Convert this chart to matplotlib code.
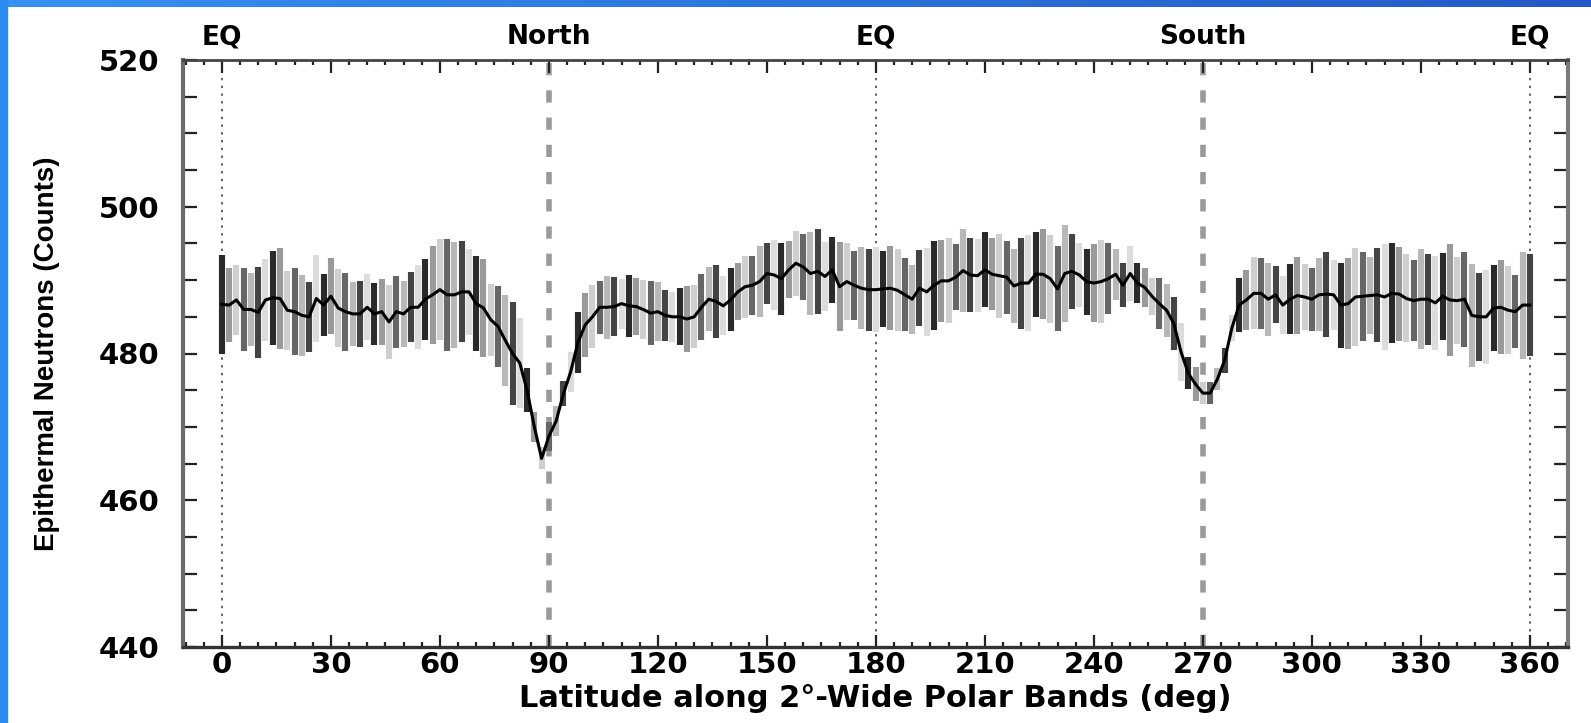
import numpy as np
import matplotlib
matplotlib.use('Agg')
import matplotlib.pyplot as plt
from matplotlib.ticker import MultipleLocator
from matplotlib.patches import Rectangle

# band centres, 2 deg wide, 0..360 along the polar track
lat = np.arange(0, 361, 2)

counts = [
    486.7, 486.6, 487.3, 486.0, 486.0, 485.6, 487.3, 487.6, 487.5, 485.9,
    485.7, 485.2, 485.0, 487.5, 486.6, 487.8, 486.2, 485.7, 485.4, 485.4,
    486.3, 485.4, 485.7, 484.3, 485.7, 485.4, 486.3, 486.3, 487.4, 488.0,
    488.7, 488.0, 488.0, 488.4, 488.4, 486.8, 486.2, 484.6, 483.7, 481.8,
    480.0, 478.7, 475.0, 470.0, 465.7, 468.7, 470.8, 474.5, 477.5, 481.5,
    483.9, 485.0, 486.3, 486.3, 486.4, 486.8, 486.5, 486.4, 486.0, 485.5,
    485.7, 485.2, 485.0, 485.0, 484.7, 485.0, 486.3, 487.4, 487.1, 486.5,
    487.3, 488.4, 489.1, 489.3, 489.8, 490.9, 490.7, 490.2, 491.4, 492.3,
    491.8, 490.9, 491.2, 490.5, 491.4, 489.1, 489.8, 489.3, 488.9, 488.7,
    488.7, 488.8, 488.9, 488.6, 488.0, 487.4, 488.9, 488.4, 489.3, 489.9,
    489.9, 490.4, 491.3, 490.7, 490.6, 491.4, 490.8, 490.6, 490.4, 489.2,
    489.6, 489.6, 490.8, 490.8, 490.2, 488.8, 490.9, 491.2, 490.7, 489.8,
    489.6, 489.8, 490.2, 490.8, 489.3, 490.9, 489.6, 489.0, 487.8, 486.8,
    485.9, 484.1, 480.2, 477.3, 475.8, 474.6, 474.6, 476.5, 479.1, 483.5,
    486.6, 487.3, 488.2, 488.2, 487.4, 488.0, 486.6, 487.4, 487.9, 487.7,
    487.4, 488.0, 488.1, 488.0, 486.6, 486.8, 487.7, 487.8, 487.9, 488.0,
    487.7, 488.2, 488.1, 487.5, 487.2, 487.4, 487.4, 486.9, 487.8, 487.3,
    487.2, 487.4, 485.2, 485.0, 485.0, 486.2, 486.3, 485.9, 485.7, 486.6,
    486.6,
]

err = [
    6.7, 5.1, 4.8, 5.6, 5.0, 6.2, 5.6, 6.4, 6.9, 5.4,
    5.9, 5.5, 4.8, 5.9, 4.2, 5.2, 5.3, 5.3, 4.4, 4.5,
    4.5, 4.2, 4.5, 5.0, 4.9, 4.5, 4.8, 5.7, 5.5, 6.7,
    6.9, 7.6, 7.2, 6.9, 5.9, 6.5, 6.7, 4.9, 5.5, 6.2,
    7.0, 6.1, 3.0, 2.0, 1.5, 2.0, 2.0, 1.7, 2.7, 4.1,
    4.4, 4.3, 3.6, 4.3, 4.0, 3.4, 4.2, 3.9, 4.0, 4.4,
    4.0, 3.5, 3.4, 3.9, 4.5, 4.3, 4.5, 4.4, 5.0, 4.0,
    4.3, 3.9, 4.2, 4.0, 4.8, 4.1, 4.8, 4.9, 3.9, 4.4,
    4.5, 5.6, 5.8, 4.7, 4.5, 6.1, 5.3, 4.7, 5.6, 5.6,
    5.8, 5.2, 5.7, 5.6, 5.0, 4.7, 5.2, 6.0, 6.1, 5.6,
    5.8, 4.5, 5.6, 5.1, 5.0, 5.1, 4.9, 5.7, 5.0, 5.0,
    6.2, 6.5, 5.8, 6.1, 6.0, 5.8, 6.6, 5.1, 4.3, 4.5,
    5.3, 5.7, 4.8, 3.5, 3.0, 3.7, 2.7, 2.7, 2.5, 3.5,
    3.6, 3.6, 3.9, 2.2, 2.3, 1.5, 1.5, 1.5, 1.7, 1.8,
    3.7, 4.1, 4.9, 4.8, 5.0, 3.9, 3.9, 4.8, 5.2, 4.5,
    4.3, 5.0, 5.8, 4.8, 5.8, 6.2, 6.7, 6.1, 5.2, 6.4,
    7.2, 6.8, 6.4, 6.0, 5.5, 6.8, 6.2, 6.4, 5.9, 7.6,
    5.9, 6.5, 7.0, 6.0, 6.4, 5.8, 6.4, 6.0, 5.0, 7.3,
    7.0,
]

region_pos = [0, 90, 180, 270, 360]
region_lbl = ['EQ', 'North', 'EQ', 'South', 'EQ']

counts = np.array(counts)
err = np.array(err)
assert len(counts) == len(lat) == len(err)

plt.rcParams['font.family'] = ['DejaVu Sans']
plt.rcParams['font.weight'] = 'bold'

fig = plt.figure(figsize=(15.91, 7.23), dpi=100)

# blue frame on top and left edge
top = fig.add_axes([0, 1 - 7 / 723, 1, 7 / 723])
grad = np.linspace(0, 1, 256)[None, :]
top.imshow(grad, aspect='auto',
           cmap=matplotlib.colors.LinearSegmentedColormap.from_list('b', ['#3592f2', '#2359c6']))
top.axis('off')
fig.patches.append(Rectangle((0, 0), 7 / 1591, 1, transform=fig.transFigure,
                             color='#2e8cf0', zorder=5))

ax = fig.add_axes([183 / 1591, 1 - 647 / 723, (1568 - 183) / 1591, (647 - 60) / 723])

# reference lines: equator dotted, poles dashed
for p in (0, 180, 360):
    ax.axvline(p, color='#555555', lw=1.3, dashes=(1.3, 3.0), zorder=1)
for p in (90, 270):
    ax.axvline(p, color='#9a9a9a', lw=4.0, dashes=(2.2, 2.7), zorder=1)

shades = ['#2a2a2a', '#9a9a9a', '#cfcfcf', '#666666', '#b8b8b8', '#444444', '#dcdcdc']
cols = [shades[i % len(shades)] for i in range(len(lat))]
ax.vlines(lat, counts - err, counts + err, colors=cols, linewidth=4.4, zorder=2)
ax.plot(lat, counts, color='black', lw=2.2, zorder=3)

ax.set_xlim(-10.7, 370.5)
ax.set_ylim(440, 520)

ax.xaxis.set_major_locator(MultipleLocator(30))
ax.xaxis.set_minor_locator(MultipleLocator(5))
ax.yaxis.set_major_locator(MultipleLocator(20))
ax.yaxis.set_minor_locator(MultipleLocator(5))

ax.tick_params(axis='both', which='both', direction='in', top=True, right=True,
               labelsize=21, colors='#222222')
ax.tick_params(axis='x', which='major', length=9, width=1.6, pad=3)
ax.tick_params(axis='x', which='minor', length=3.5, width=1.6)
ax.tick_params(axis='y', which='both', length=10, width=1.6, pad=17)
for lbl in ax.get_xticklabels() + ax.get_yticklabels():
    lbl.set_fontweight('bold')
    lbl.set_color('black')

for side, c, w in (('left', '#6a6a6a', 3.0), ('right', '#7a7a7a', 3.0),
                   ('bottom', '#333333', 2.4), ('top', '#444444', 2.0)):
    ax.spines[side].set_color(c)
    ax.spines[side].set_linewidth(w)

ax.set_xlabel('Latitude along 2°-Wide Polar Bands (deg)', fontsize=22,
              fontweight='bold', va='center')
ax.xaxis.set_label_coords(0.5, -0.087)
ax.set_ylabel('Epithermal Neutrons (Counts)', family='Liberation Sans',
              fontsize=20, fontweight='bold', va='center')
ax.yaxis.set_label_coords(-0.098, 0.5)

for p, t in zip(region_pos, region_lbl):
    ax.text(p, 1.039, t, transform=ax.get_xaxis_transform(), ha='center',
            va='center', fontsize=19, fontweight='bold')

fig.savefig('out.png', dpi=100, facecolor='white')
